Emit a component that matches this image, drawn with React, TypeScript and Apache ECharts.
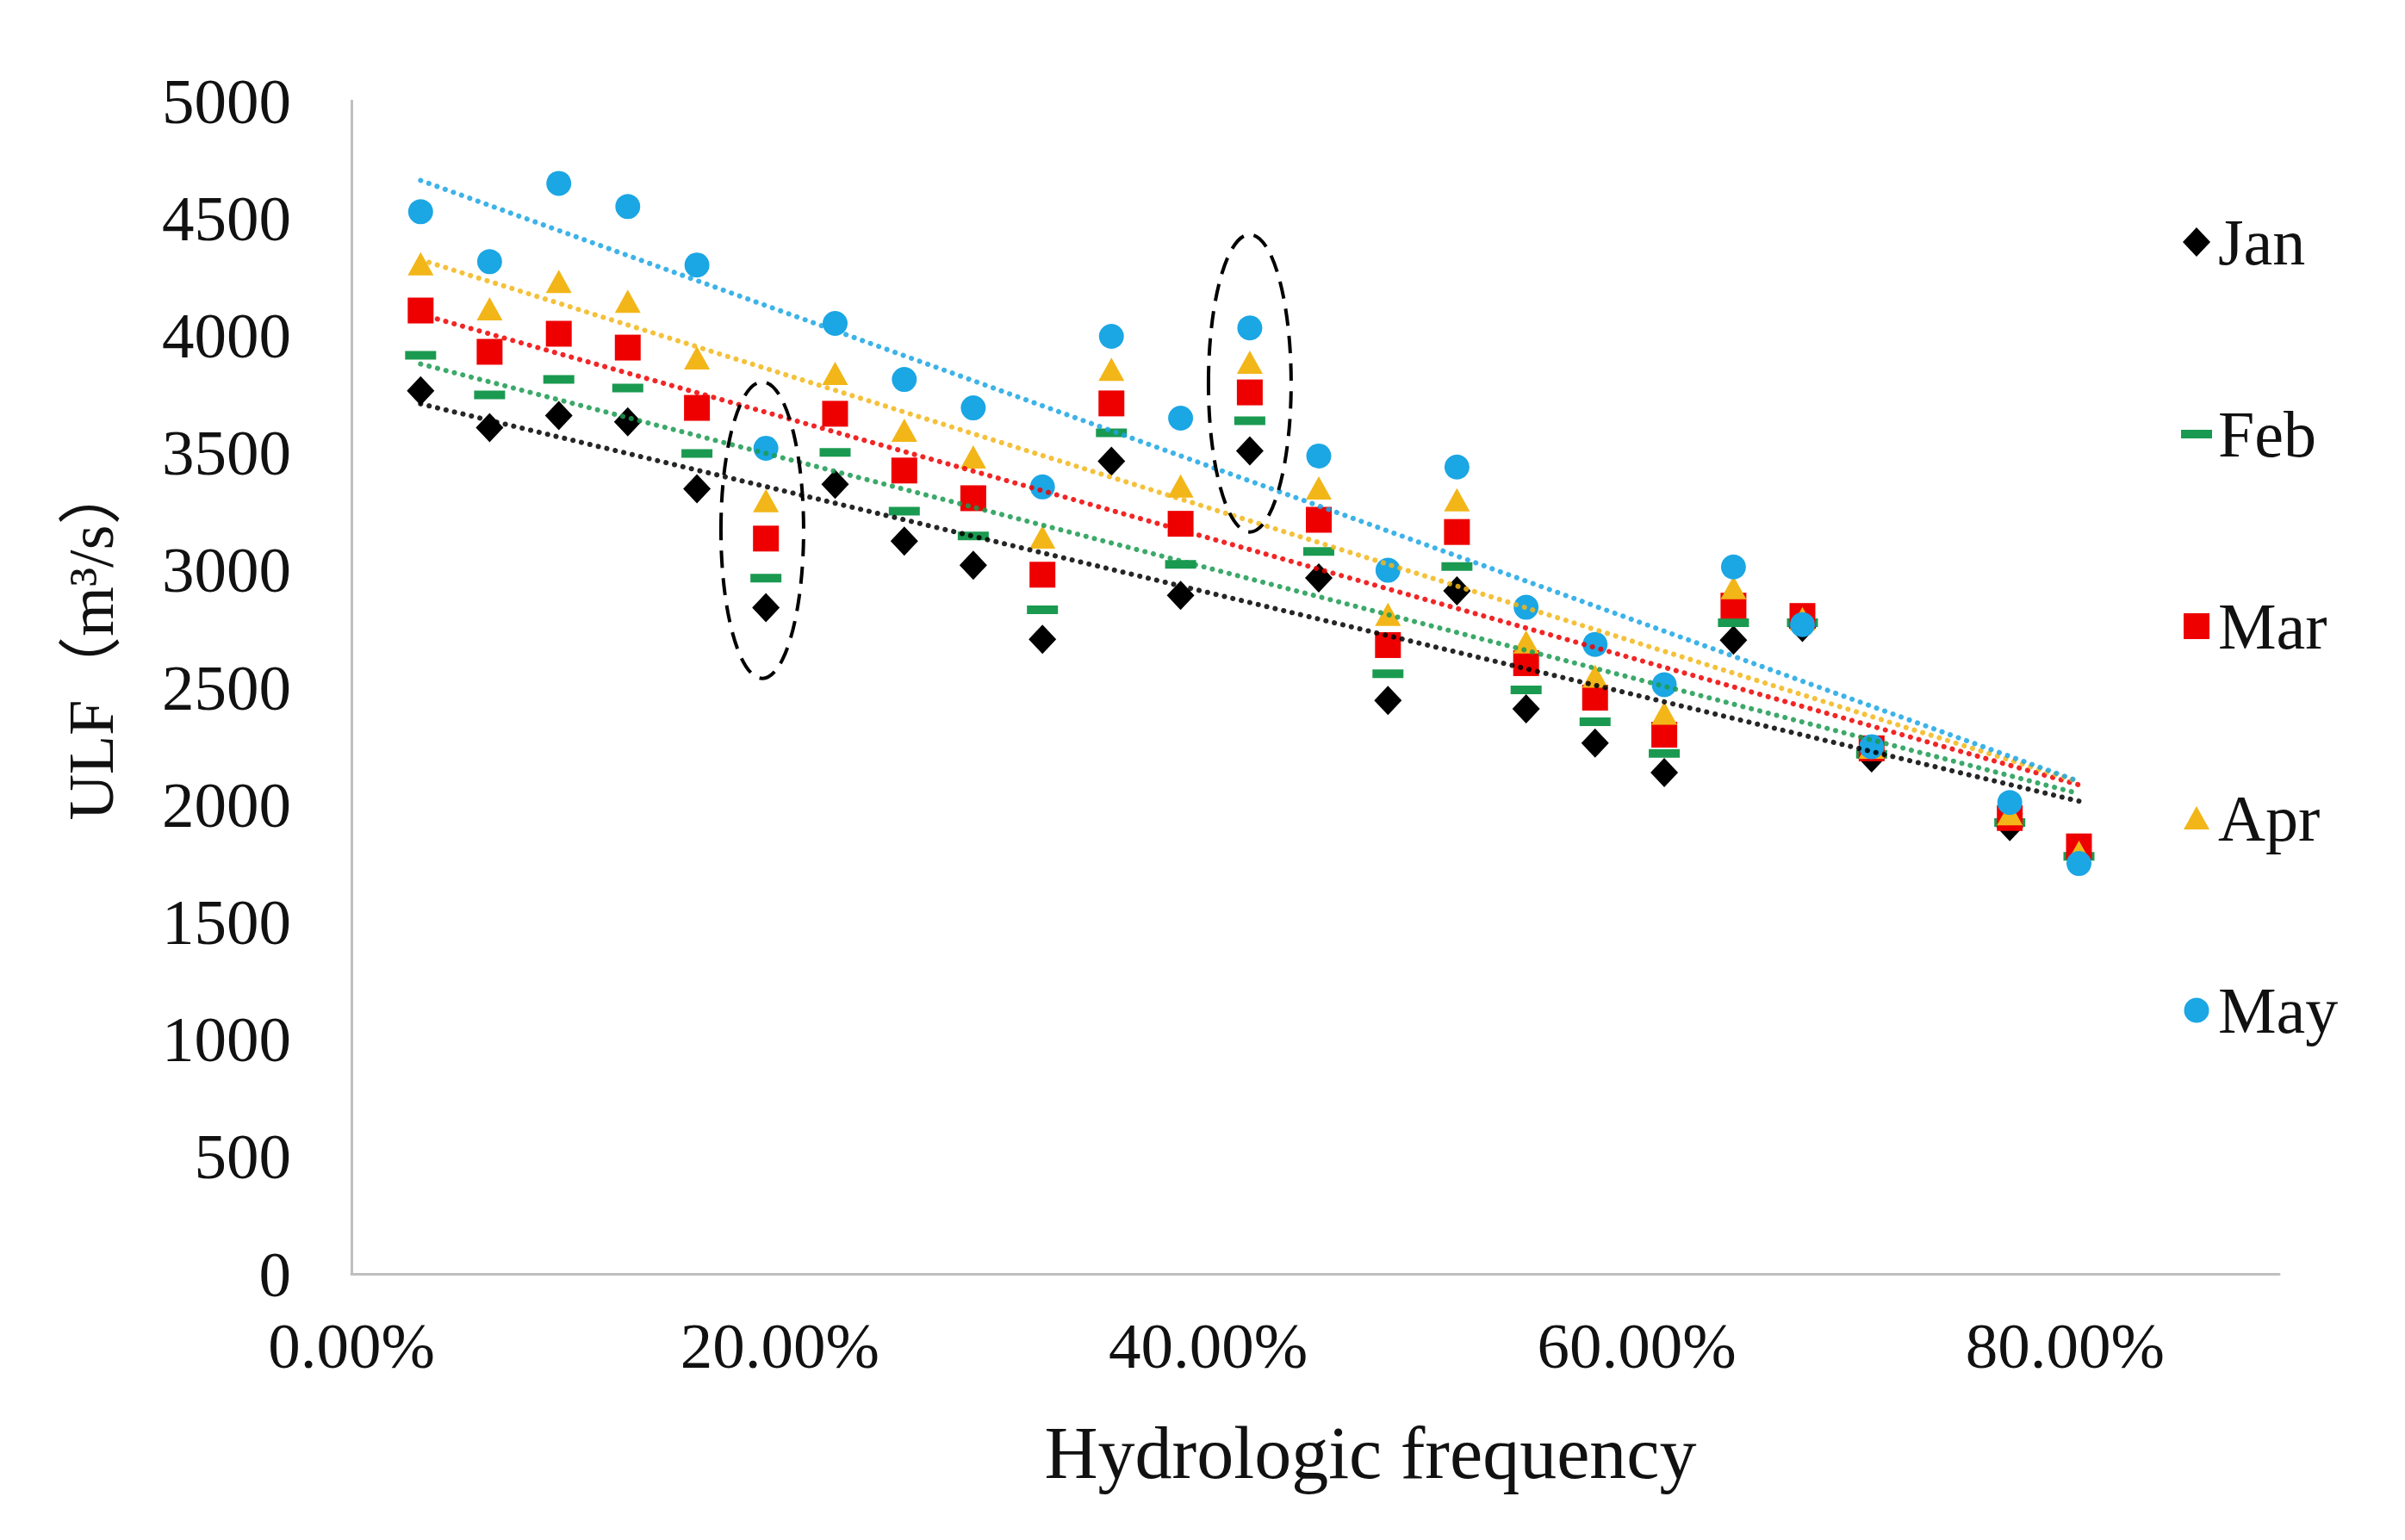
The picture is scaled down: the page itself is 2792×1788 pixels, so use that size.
import React, { useEffect, useRef } from "react";
import * as echarts from "echarts";

// Hydrologic frequency (plotting positions)
const freq = [
  0.0323, 0.0645, 0.0968, 0.129, 0.1613, 0.1935, 0.2258, 0.2581, 0.2903, 0.3226,
  0.3548, 0.3871, 0.4194, 0.4516, 0.4839, 0.5161, 0.5484, 0.5806, 0.6129, 0.6452,
  0.6774, 0.7097, 0.7742, 0.8065,
];

const jan = [3764, 3607, 3658, 3632, 3346, 2840, 3365, 3123, 3020, 2705, 3464, 2892, 3508, 2966, 2444, 2911, 2408, 2262, 2137, 2701, 2755, 2199, 1906, 1770];
const feb = [3915, 3746, 3812, 3776, 3497, 2965, 3501, 3251, 3145, 2830, 3585, 3024, 3636, 3079, 2558, 3015, 2489, 2353, 2218, 2775, 2775, 2215, 1924, 1780];
const mar = [4106, 3930, 4007, 3948, 3691, 3134, 3666, 3424, 3306, 2980, 3710, 3197, 3757, 3214, 2680, 3162, 2603, 2456, 2298, 2848, 2804, 2240, 1943, 1822];
const apr = [4305, 4113, 4230, 4146, 3904, 3296, 3838, 3596, 3482, 3141, 3856, 3358, 3886, 3350, 2811, 3299, 2694, 2548, 2390, 2925, 2793, 2245, 1961, 1797];
const may = [4527, 4314, 4648, 4549, 4300, 3519, 4051, 3812, 3691, 3354, 3996, 3647, 4032, 3486, 2999, 3439, 2841, 2683, 2511, 3013, 2767, 2247, 2009, 1749];

const months = ["Jan", "Feb", "Mar", "Apr", "May"];
const monthValues = [jan, feb, mar, apr, may];
const colors = ["#000000", "#1a9a50", "#ee0000", "#f2b619", "#1ba6e4"];

// Highlighted groups: [centre frequency, centre ULF, half-width, half-height]
const highlights = [
  [0.1918, 3170, 0.0193, 632],
  [0.4194, 3796, 0.0193, 634],
];

const xTicks = [0, 0.2, 0.4, 0.6, 0.8];
const yTicks = [0, 500, 1000, 1500, 2000, 2500, 3000, 3500, 4000, 4500, 5000];

const FONT = "'Times New Roman', 'Liberation Serif', 'Noto Sans CJK SC', serif";

const symbols: any[] = [
  { symbol: "diamond", size: [32, 34] },
  { symbol: "rect", size: [36, 10] },
  { symbol: "rect", size: [30, 30] },
  { symbol: "triangle", size: [30, 27] },
  { symbol: "circle", size: 29 },
];

const legendIcons = [
  "path://M0,0M40,40M20,3L36,20L20,37L4,20Z",
  "path://M0,0M40,40M2,15L38,15L38,25L2,25Z",
  "path://M0,0M40,40M5,5L35,5L35,35L5,35Z",
  "path://M0,0M40,40M20,6L35,33L5,33Z",
  "path://M0,0M40,40M5.5,20A14.5,14.5,0,1,0,34.5,20A14.5,14.5,0,1,0,5.5,20Z",
];

function linearFit(xs: number[], ys: number[]) {
  const n = xs.length;
  let sx = 0, sy = 0, sxx = 0, sxy = 0;
  for (let i = 0; i < n; i++) {
    sx += xs[i]; sy += ys[i]; sxx += xs[i] * xs[i]; sxy += xs[i] * ys[i];
  }
  const b = (n * sxy - sx * sy) / (n * sxx - sx * sx);
  const a = (sy - b * sx) / n;
  const x0 = Math.min(...xs);
  const x1 = Math.max(...xs);
  return [[x0, a + b * x0], [x1, a + b * x1]];
}

export default function App() {
  const ref = useRef<HTMLDivElement>(null);

  useEffect(() => {
    if (!ref.current) return;
    const chart = echarts.init(ref.current, null, { renderer: "svg" });

    const scatterSeries = months.map((m, i) => ({
      name: m,
      type: "scatter",
      symbol: symbols[i].symbol,
      symbolSize: symbols[i].size,
      itemStyle: { color: colors[i], opacity: 1 },
      data: freq.map((f, k) => [f, monthValues[i][k]]),
      z: 2,
    }));

    const trendSeries = months.map((m, i) => ({
      name: m + " trend",
      type: "line",
      symbol: "none",
      silent: true,
      lineStyle: { color: colors[i], width: 6, type: [0.1, 10], cap: "round", opacity: 0.85 },
      data: linearFit(freq, monthValues[i]),
      z: 3,
    }));

    const ellipseSeries = {
      name: "highlight",
      type: "custom",
      silent: true,
      z: 4,
      encode: { x: 0, y: 1 },
      data: highlights,
      renderItem: (params: any, api: any) => {
        const c = api.coord([api.value(0), api.value(1)]);
        const s = api.size([api.value(2), api.value(3)]);
        return {
          type: "ellipse",
          shape: { cx: c[0], cy: c[1], rx: s[0], ry: s[1] },
          style: { fill: "none", stroke: "#000", lineWidth: 4, lineDash: [20, 12] },
        };
      },
    };

    chart.setOption({
      animation: false,
      backgroundColor: "#ffffff",
      textStyle: { fontFamily: FONT },
      grid: { left: 408, right: 146, top: 117, bottom: 309, containLabel: false },
      legend: {
        orient: "vertical",
        left: 2525,
        top: 236,
        itemWidth: 40,
        itemHeight: 40,
        itemGap: 143,
        itemTextGap: 15,
        textStyle: { fontSize: 76, lineHeight: 80, color: "#111", fontFamily: FONT },
        data: months.map((m, i) => ({ name: m, icon: legendIcons[i] })),
      },
      xAxis: {
        type: "value",
        min: 0,
        max: 0.9,
        interval: 0.2,
        name: "Hydrologic frequency",
        nameLocation: "middle",
        nameGap: 165,
        nameTextStyle: { fontSize: 86, color: "#111", fontFamily: FONT, padding: [0, 0, 0, 128] },
        axisLine: { show: true, lineStyle: { color: "#bfbfbf", width: 3 } },
        axisTick: { show: false },
        splitLine: { show: false },
        axisLabel: {
          fontSize: 75,
          color: "#111",
          margin: 46,
          fontFamily: FONT,
          formatter: (v: number) =>
            xTicks.some((t) => Math.abs(t - v) < 1e-6) ? (v * 100).toFixed(2) + "%" : "",
        },
      },
      yAxis: {
        type: "value",
        min: yTicks[0],
        max: yTicks[yTicks.length - 1],
        interval: 500,
        name: "ULF（m³/s）",
        nameLocation: "middle",
        nameGap: 265,
        nameTextStyle: { fontSize: 74, color: "#111", fontFamily: FONT, padding: [0, 0, 0, 108] },
        axisLine: { show: true, lineStyle: { color: "#bfbfbf", width: 3 } },
        axisTick: { show: false },
        splitLine: { show: false },
        axisLabel: {
          fontSize: 75,
          color: "#111",
          margin: 70,
          fontFamily: FONT,
          formatter: (v: number) => String(Math.round(v)),
        },
      },
      series: [...scatterSeries, ...trendSeries, ellipseSeries],
    });

    return () => chart.dispose();
  }, []);

  return (
    <div
      ref={ref}
      style={{ position: "fixed", left: 0, top: 0, width: "2792px", height: "1788px", background: "#fff" }}
    />
  );
}
